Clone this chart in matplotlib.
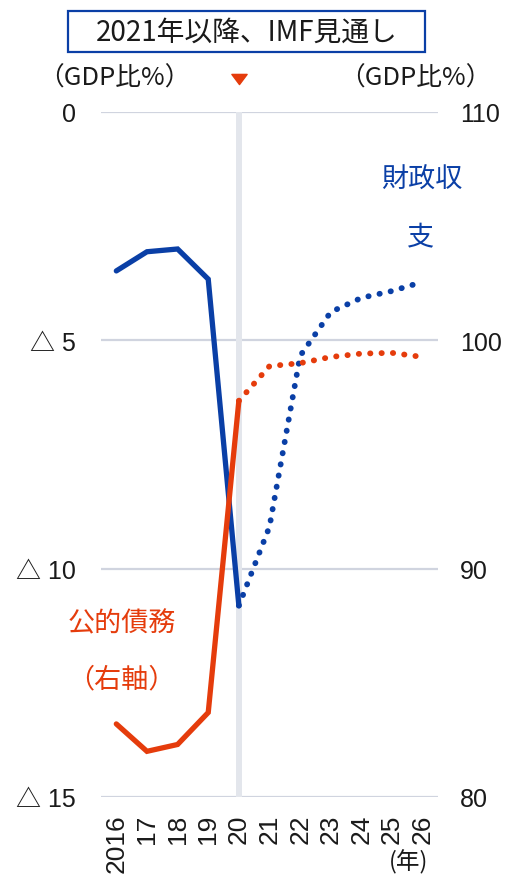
import matplotlib
matplotlib.use("Agg")
import matplotlib.pyplot as plt
from matplotlib.patches import Rectangle
from matplotlib.transforms import blended_transform_factory
from matplotlib.path import Path

plt.rcParams['font.family'] = ['Liberation Sans', 'Noto Sans CJK JP', 'DejaVu Sans']
CJK = ['Noto Sans CJK JP', 'DejaVu Sans']

# ---- data ----
years_actual = [2016, 2017, 2018, 2019, 2020]
years_forecast = [2020, 2021, 2022, 2023, 2024, 2025, 2026]
balance_actual = [-3.48, -3.06, -3.0, -3.66, -10.81]
balance_forecast = [-10.81, -9.08, -5.34, -4.38, -4.07, -3.92, -3.72]
debt_actual = [83.2, 82.0, 82.3, 83.7, 97.35]
debt_forecast = [97.35, 98.87, 99.0, 99.27, 99.42, 99.45, 99.27]
x_ticks = [2016, 2017, 2018, 2019, 2020, 2021, 2022, 2023, 2024, 2025, 2026]
x_labels = ["2016", "17", "18", "19", "20", "21", "22", "23", "24", "25", "26"]
left_ticks = [0, -5, -10, -15]
left_labels = ["0", "△ 5", "△ 10", "△ 15"]
right_ticks = [80, 90, 100, 110]
right_labels = ["80", "90", "100", "110"]

BLUE = '#0a3fa6'
RED = '#e53c0c'
GRID = '#d0d4df'
BAND = '#e3e6ec'
TXT = '#1a1a1a'

W, H = 512, 878
fig = plt.figure(figsize=(W / 100, H / 100), dpi=100)
ax = fig.add_axes([101 / W, 1 - 798 / H, (438 - 101) / W, (798 - 113) / H])
ax2 = ax.twinx()

ax.set_xlim(2015.5, 2026.5)
ax.set_ylim(-15, 0)
ax2.set_ylim(80, 110)

for a in (ax, ax2):
    for s in a.spines.values():
        s.set_visible(False)

ax.set_yticks(left_ticks)
ax.set_yticklabels(left_labels)
ax2.set_yticks(right_ticks)
ax2.set_yticklabels(right_labels)
ax.set_xticks(x_ticks)
ax.set_xticklabels(x_labels, rotation=90, va='top', ha='center')
ax.tick_params(axis='y', length=0, pad=18, labelsize=18, labelcolor=TXT)
ax2.tick_params(axis='y', length=0, pad=16, labelsize=18, labelcolor=TXT)
ax.tick_params(axis='x', length=0, pad=12, labelsize=19, labelcolor=TXT)

for t in left_ticks:
    ax.axhline(t, color=GRID, lw=1.6, zorder=0)
ax.axvspan(2020 - 0.1, 2020 + 0.1, ymin=0, ymax=1, color=BAND, lw=0, zorder=0.5)

# lines
ax.plot(years_actual, balance_actual, color=BLUE, lw=3.8, solid_capstyle='round',
        solid_joinstyle='miter', zorder=3)
ax.plot(years_forecast, balance_forecast, color=BLUE, lw=4.2,
        linestyle=(0, (0.05, 1.9)), dash_capstyle='round', zorder=3)
ax2.plot(years_actual, debt_actual, color=RED, lw=3.8, solid_capstyle='round',
         solid_joinstyle='miter', zorder=3)
ax2.plot(years_forecast, debt_forecast, color=RED, lw=4.2,
         linestyle=(0, (0.05, 1.9)), dash_capstyle='round', zorder=3)
ax.set_zorder(2)
ax.patch.set_visible(False)
ax2.set_zorder(3)

# title box
fig.add_artist(Rectangle((68 / W, 1 - 53 / H), (425 - 68) / W, 41 / H,
                         transform=fig.transFigure, fill=False,
                         edgecolor=BLUE, lw=1.6))
fig.text(247 / W, 1 - 33 / H, "2021年以降、IMF見通し", ha='center', va='center',
         fontsize=20, color=TXT, family=CJK)

# axis unit labels
fig.text(114 / W, 1 - 79 / H, "（GDP比%）", ha='center', va='center', fontsize=18.5,
         color=TXT, family=CJK)
fig.text(415 / W, 1 - 79 / H, "（GDP比%）", ha='center', va='center', fontsize=18.5,
         color=TXT, family=CJK)

# triangle marker
tri = Path([(-1.5, 1), (1.5, 1), (0, -1), (-1.5, 1)],
           [Path.MOVETO, Path.LINETO, Path.LINETO, Path.CLOSEPOLY])
tr = blended_transform_factory(ax.transData, fig.transFigure)
ax.plot([2020], [1 - 80 / H], marker=tri, ms=11, color=RED, transform=tr,
        clip_on=False, lw=0)

# series annotations
fig.text(422 / W, 1 - 180 / H, "財政収", ha='center', va='center', fontsize=19.5,
         color=BLUE, family=CJK)
fig.text(420 / W, 1 - 238 / H, "支", ha='center', va='center', fontsize=19.5,
         color=BLUE, family=CJK)
fig.text(122 / W, 1 - 624 / H, "公的債務", ha='center', va='center', fontsize=19.5,
         color=RED, family=CJK)
fig.text(121 / W, 1 - 680 / H, "（右軸）", ha='center', va='center', fontsize=19.5,
         color=RED, family=CJK)

fig.text(409 / W, 1 - 862 / H, "(年)", ha='center', va='center', fontsize=17,
         color=TXT, family=CJK)

fig.savefig("out.png", dpi=100)
